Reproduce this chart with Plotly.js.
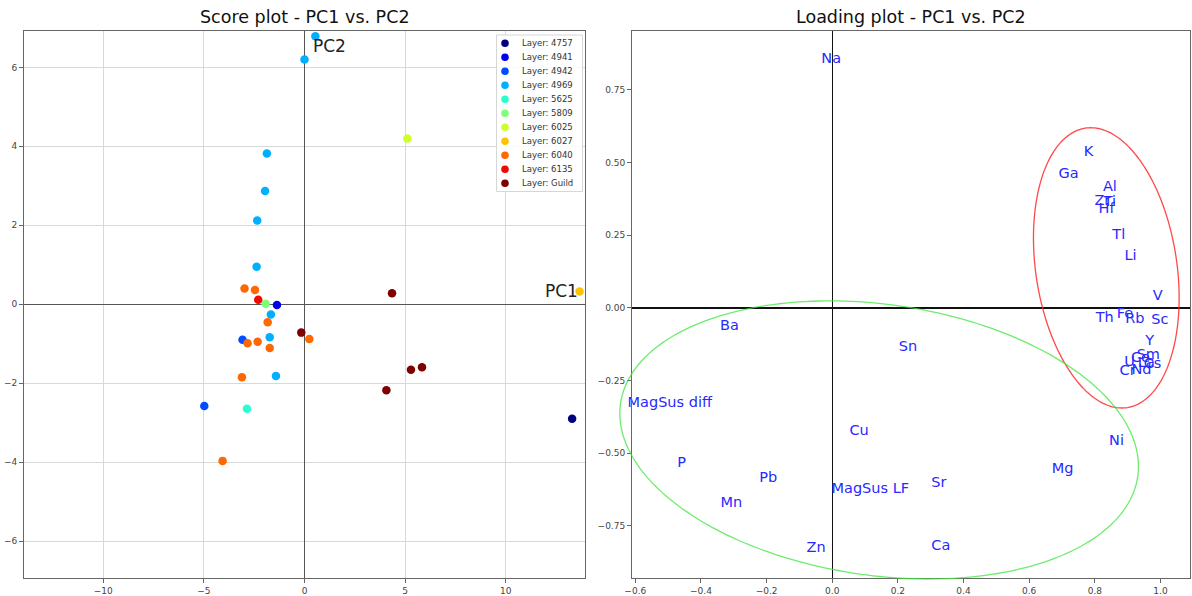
<!DOCTYPE html>
<html><head><meta charset="utf-8">
<script src="https://cdn.plot.ly/plotly-3.0.1.min.js"></script>
<style>html,body{margin:0;padding:0;background:#fff}#chart{width:1192px;height:596px}</style>
</head><body><div id="chart"></div>
<script>
// ---- Score plot data ----
const layerNames = ['4757','4941','4942','4969','5625','5809','6025','6027','6040','6135','Guild'];
const layerColors = ['#000080','#0000f1','#004cff','#00b0ff','#29ffce','#7dff7a','#ceff29','#ffc400','#ff6800','#f10800','#7f0000'];

const scoreLayer = ['4757','4941','4942','4942',
  '4969','4969','4969','4969','4969','4969','4969','4969','4969',
  '5625','5809','6025','6027',
  '6040','6040','6040','6040','6040','6040','6040','6040','6040',
  '6135','Guild','Guild','Guild','Guild','Guild'];
const scorePC1 = [13.30,-1.37,-3.08,-4.98,
  -1.87,-1.96,-2.35,-2.38,-1.67,-1.73,-1.42,0.00,0.54,
  -2.86,-1.93,5.11,13.67,
  -2.98,-2.46,-1.83,0.24,-2.83,-2.33,-1.73,-3.11,-4.07,
  -2.30,4.35,5.29,5.84,4.07,-0.16];
const scorePC2 = [-2.90,-0.02,-0.90,-2.58,
  3.82,2.87,2.12,0.95,-0.26,-0.84,-1.82,6.20,6.79,
  -2.65,0.01,4.20,0.32,
  0.40,0.36,-0.46,-0.88,-0.99,-0.95,-1.11,-1.85,-3.97,
  0.11,0.28,-1.66,-1.60,-2.18,-0.72];

// ---- Loading plot data ----
const varNames = ['Na','K','Ga','Al','Zr','Ti','Hf','Tl','Li','V','Th','Fe','Rb','Sc','Y','Sm',
  'U','Ce','La','Cs','Cr','Nd',
  'Ba','Sn','MagSus diff','Cu','P','Pb','Mn','MagSus LF','Sr','Mg','Ni','Zn','Ca'];
const loadPC1 = [-0.003,0.781,0.720,0.846,0.823,0.846,0.836,0.873,0.909,0.992,0.830,0.892,0.922,0.998,0.967,0.963,
  0.906,0.939,0.957,0.976,0.900,0.942,
  -0.313,0.231,-0.495,0.082,-0.459,-0.195,-0.307,0.116,0.325,0.702,0.866,-0.049,0.331];
const loadPC2 = [0.857,0.535,0.460,0.415,0.367,0.364,0.338,0.249,0.177,0.040,-0.036,-0.021,-0.039,-0.041,-0.116,-0.162,
  -0.186,-0.175,-0.189,-0.193,-0.217,-0.213,
  -0.065,-0.134,-0.327,-0.423,-0.533,-0.588,-0.671,-0.623,-0.605,-0.557,-0.458,-0.826,-0.819];

// ellipse outlines (matplotlib-style: centre, width, height, angle in degrees), in loading-plot units
const redEllipse = {cx:0.835, cy:0.138, w:0.431, h:0.97, angle:7.0, color:'rgba(255,40,40,0.85)'};
const greenEllipse = {cx:0.143, cy:-0.454, w:1.596, h:0.93, angle:-10, color:'rgba(60,230,60,0.75)'};

const FONT = 'DejaVu Sans, Liberation Sans, sans-serif';
const W = 1192, H = 596;
const px2x = p => p / W;
const px2y = p => 1 - p / H;

const x2Domain = [632 / W, 1190 / W], x2Range = [-0.61, 1.09];
const yDomain = [1 - 577.7 / H, 1 - 30.7 / H], y2Range = [-0.928, 0.954];

const traces = [];
layerNames.forEach((name, i) => {
  const xs = [], ys = [];
  scoreLayer.forEach((l, k) => { if (l === name) { xs.push(scorePC1[k]); ys.push(scorePC2[k]); } });
  traces.push({type:'scatter', mode:'markers', x:xs, y:ys, xaxis:'x', yaxis:'y',
    name:'Layer: ' + name, showlegend:false,
    marker:{color:layerColors[i], size:8.5, line:{width:0}}});
});

traces.push({type:'scatter', mode:'text', x:loadPC1, y:loadPC2, text:varNames, xaxis:'x2', yaxis:'y2',
  showlegend:false, textposition:'middle center', cliponaxis:false,
  textfont:{family:FONT, size:14.5, color:'rgb(40,40,255)'}});

// ellipse drawn as an unclipped paper-space path (like a matplotlib patch that spills past the axes)
function ellipseShape(e) {
  const a = e.angle * Math.PI / 180;
  const toPx = x => x2Domain[0] + (x - x2Range[0]) / (x2Range[1] - x2Range[0]) * (x2Domain[1] - x2Domain[0]);
  const toPy = y => yDomain[0] + (y - y2Range[0]) / (y2Range[1] - y2Range[0]) * (yDomain[1] - yDomain[0]);
  let d = '';
  for (let k = 0; k <= 240; k++) {
    const t = 2 * Math.PI * k / 240;
    const u = e.w / 2 * Math.cos(t), v = e.h / 2 * Math.sin(t);
    const x = e.cx + u * Math.cos(a) - v * Math.sin(a);
    const y = e.cy + u * Math.sin(a) + v * Math.cos(a);
    d += (k === 0 ? 'M' : 'L') + toPx(x).toFixed(5) + ',' + toPy(y).toFixed(5);
  }
  return {type:'path', xref:'paper', yref:'paper', path:d + 'Z', line:{color:e.color, width:1.3}, layer:'above'};
}

const axisCommon = {showline:true, mirror:true, linecolor:'#666', linewidth:1, ticks:'outside', ticklen:4,
  tickcolor:'#666', tickfont:{family:FONT, size:9, color:'#444'}, automargin:false};

const shapes = [ellipseShape(redEllipse), ellipseShape(greenEllipse)], annotations = [];
// titles
annotations.push({xref:'paper', yref:'paper', x:px2x(304.5), y:px2y(17), xanchor:'center', yanchor:'middle',
  text:'Score plot - PC1 vs. PC2', showarrow:false, font:{family:FONT, size:17.5, color:'#111'}});
annotations.push({xref:'paper', yref:'paper', x:px2x(911), y:px2y(17), xanchor:'center', yanchor:'middle',
  text:'Loading plot - PC1 vs. PC2', showarrow:false, font:{family:FONT, size:17.5, color:'#111'}});
// PC axis labels
annotations.push({xref:'x', yref:'y', x:13.67, y:0, xanchor:'right', yanchor:'bottom', yshift:1,
  text:'PC1', showarrow:false, font:{family:FONT, size:17, color:'#222'}});
annotations.push({xref:'x', yref:'y', x:0.3, y:6.79, xanchor:'left', yanchor:'top', yshift:2,
  text:'PC2', showarrow:false, font:{family:FONT, size:17, color:'#222'}});

// legend (drawn manually to reproduce the compact matplotlib legend)
shapes.push({type:'rect', xref:'paper', yref:'paper', x0:px2x(496.5), x1:px2x(582.5), y0:px2y(191.5), y1:px2y(35),
  line:{color:'#d6d6d6', width:1}, fillcolor:'rgba(255,255,255,0.85)', layer:'above'});
layerNames.forEach((name, i) => {
  const py = 43.3 + i * 14;
  shapes.push({type:'circle', xref:'paper', yref:'paper', xsizemode:'pixel', ysizemode:'pixel',
    xanchor:px2x(505), yanchor:px2y(py), x0:-3.8, x1:3.8, y0:-3.8, y1:3.8,
    fillcolor:layerColors[i], line:{width:0}, layer:'above'});
  annotations.push({xref:'paper', yref:'paper', x:px2x(519.5), y:px2y(py), xanchor:'left', yanchor:'middle',
    text:'Layer: ' + name, showarrow:false, font:{family:FONT, size:8.5, color:'#333'}});
});

const layout = {
  width:W, height:H, margin:{l:0, r:0, t:0, b:0}, paper_bgcolor:'#fff', plot_bgcolor:'#fff',
  showlegend:false, font:{family:FONT},
  xaxis:Object.assign({}, axisCommon, {domain:[24 / W, 585 / W], range:[-13.94, 13.94], tick0:0, dtick:5,
    showgrid:true, gridcolor:'#d9d9d9', gridwidth:1, zeroline:true, zerolinecolor:'#555', zerolinewidth:1.4, anchor:'y'}),
  yaxis:Object.assign({}, axisCommon, {domain:yDomain, range:[-6.93, 6.93], tick0:0, dtick:2,
    showgrid:true, gridcolor:'#d9d9d9', gridwidth:1, zeroline:true, zerolinecolor:'#555', zerolinewidth:1.4, anchor:'x'}),
  xaxis2:Object.assign({}, axisCommon, {domain:x2Domain, range:x2Range, tick0:0, dtick:0.2,
    tickformat:'.1f', showgrid:false, zeroline:true, zerolinecolor:'#111', zerolinewidth:1.3, anchor:'y2'}),
  yaxis2:Object.assign({}, axisCommon, {domain:yDomain, range:y2Range, tick0:0, dtick:0.25,
    tickformat:'.2f', showgrid:false, zeroline:true, zerolinecolor:'#111', zerolinewidth:1.3, anchor:'x2'}),
  shapes:shapes, annotations:annotations
};

Plotly.newPlot('chart', traces, layout, {staticPlot:true, displayModeBar:false});
</script></body></html>
